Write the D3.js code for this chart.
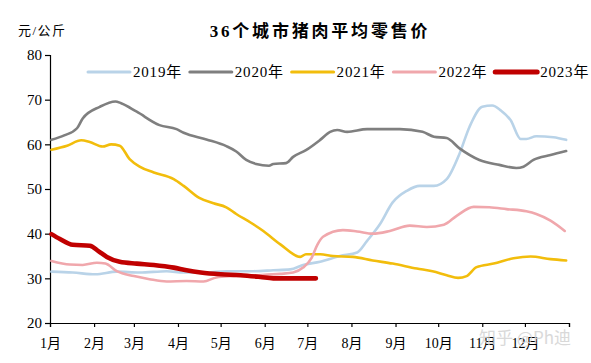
<!DOCTYPE html>
<html>
<head>
<meta charset="utf-8">
<script src="https://cdn.jsdelivr.net/npm/d3@7"></script>
<style>
  body { margin: 0; background: #fff; }
  text { font-family: "Liberation Serif", "Noto Sans CJK SC", serif; fill: #000; }
</style>
</head>
<body>
<svg id="chart" width="591" height="363"></svg>
<script>
// Data (day of year, yuan/kg)
var monthLabels = ['1月','2月','3月','4月','5月','6月','7月','8月','9月','10月','11月','12月'];
var monthStarts = [0, 31, 59, 90, 120, 151, 181, 212, 243, 273, 304, 334, 365];
var yTicks = [20, 30, 40, 50, 60, 70, 80];
var years = ['2019年', '2020年', '2021年', '2022年', '2023年'];

var data2019 = [[1,31.5],[16,31.3],[32,30.9],[47,31.5],[63,31.3],[82,31.6],[94,31.3],[110,31.3],
  [124,31.6],[143,31.6],[157,31.8],[169,32.0],[178,33.0],[190,33.7],[204,35.0],[216,35.8],
  [223,38.4],[232,42.1],[241,47.0],[251,49.6],[260,50.7],[270,50.7],[279,52.2],[288,57.9],
  [295,63.9],[304,68.4],[311,68.7],[317,67.6],[324,65.4],[331,61.2],[335,61.2],[342,61.8],
  [354,61.6],[363,61.0]];
var data2020 = [[1,61.0],[10,62.0],[19,63.6],[23,65.8],[35,68.4],[46,69.6],[50,69.2],[61,67.3],
  [77,64.3],[89,63.4],[94,62.6],[110,61.1],[124,59.6],[131,58.4],[138,56.5],[145,55.6],
  [154,55.2],[157,55.6],[166,55.8],[171,57.2],[180,58.7],[190,61.0],[197,62.8],[202,63.2],
  [209,62.8],[223,63.4],[246,63.4],[262,62.8],[270,61.7],[279,61.4],[288,59.1],[302,56.5],
  [316,55.4],[328,54.7],[333,55.0],[340,56.5],[352,57.6],[363,58.5]];
var data2021 = [[1,58.8],[12,59.7],[22,60.9],[28,60.5],[37,59.5],[43,60.0],[49,59.7],[56,56.7],
  [63,55.0],[73,53.7],[87,52.2],[94,50.7],[105,48.0],[115,46.8],[124,45.9],[131,44.4],
  [141,42.5],[150,40.6],[162,37.6],[176,34.8],[180,35.4],[190,35.4],[199,35.0],[213,34.8],
  [227,34.0],[241,33.3],[258,32.2],[269,31.6],[279,30.7],[287,30.1],[293,30.5],[300,32.5],
  [312,33.3],[326,34.5],[338,34.9],[352,34.3],[363,34.0]];
var data2022 = [[1,33.9],[14,33.1],[23,33.0],[33,33.5],[39,33.3],[47,31.6],[59,30.5],[70,29.8],
  [82,29.3],[96,29.4],[108,29.3],[117,30.2],[129,30.5],[145,30.7],[162,31.0],[171,31.3],
  [178,32.4],[184,34.6],[188,37.5],[192,39.3],[206,40.8],[216,40.5],[227,40.0],[239,40.6],
  [253,41.8],[265,41.5],[277,42.0],[286,44.0],[298,46.0],[309,45.9],[321,45.5],[335,45.0],
  [342,44.4],[352,42.9],[362,40.6]];
var data2023 = [[1,39.9],[7,38.8],[16,37.5],[28,37.3],[34,36.1],[40,34.8],[49,33.7],[61,33.3],
  [73,33.0],[87,32.4],[96,31.8],[106,31.3],[120,30.9],[134,30.7],[148,30.3],[157,30.0],
  [171,30.0],[187,30.0]];

var series = [data2019, data2020, data2021, data2022, data2023];
var colors = ['#b9d3e8', '#7f7f7f', '#f2bd0c', '#f0a7ac', '#c00000'];
var widths = [2.6, 2.6, 2.6, 2.6, 4.6];

// Plot area
const svg = d3.select('#chart');
const margin = {top: 55, bottom: 40, left: 50, right: 22};
const width = 591 - margin.left - margin.right;
const height = 363 - margin.top - margin.bottom;

const g = svg.append('g')
  .attr('transform', `translate(${margin.left}, ${margin.top})`);

const xscale = d3.scaleLinear().domain([0, 365]).range([0, width]);
const yscale = d3.scaleLinear().domain([20, 80]).range([height, 0]);

const yaxis = d3.axisLeft(yscale).tickValues(yTicks).tickSize(5).tickPadding(3);
const xaxis = d3.axisBottom(xscale).tickValues(monthStarts).tickSize(4)
  .tickFormat(function(d, i) { return monthLabels[i] || ''; });

const gy = g.append('g').call(yaxis);
gy.selectAll('text').style('font-size', '15px');

const gx = g.append('g').attr('transform', `translate(0,${height})`).call(xaxis);
gx.selectAll('text').style('font-size', '14px').attr('dy', '1.25em');

g.selectAll('.domain, .tick line').attr('stroke', '#000').attr('stroke-width', 1.2);

// Lines
var line = d3.line()
  .x(function(d) { return xscale(d[0]); })
  .y(function(d) { return yscale(d[1]); })
  .curve(d3.curveMonotoneX);

g.selectAll('.dist')
  .data(series)
  .enter().append('path')
  .attr('class', 'dist')
  .attr('d', line)
  .attr('fill', 'none')
  .attr('stroke', function(d, i) { return colors[i]; })
  .attr('stroke-width', function(d, i) { return widths[i]; })
  .attr('stroke-linejoin', 'round')
  .attr('stroke-linecap', 'round');

// Title and unit
svg.append('text')
  .attr('x', 320).attr('y', 37)
  .attr('text-anchor', 'middle')
  .style('font-size', '17px').style('font-weight', 'bold')
  .style('letter-spacing', '2.8px')
  .text('36个城市猪肉平均零售价');

svg.append('text')
  .attr('x', 18).attr('y', 35)
  .style('font-size', '13px').style('letter-spacing', '1.5px')
  .text('元/公斤');

// Legend
const legend = svg.selectAll('.legend')
  .data(years)
  .enter().append('g')
  .attr('class', 'legend')
  .attr('transform', function(d, i) { return `translate(${88 + i * 101.8}, 72)`; });

legend.append('line')
  .attr('x1', 0).attr('x2', 42)
  .attr('stroke', function(d, i) { return colors[i]; })
  .attr('stroke-width', function(d, i) { return widths[i] + 0.4; })
  .attr('stroke-linecap', 'round');

legend.append('text')
  .attr('x', 45).attr('dy', '0.35em')
  .style('font-size', '15px').style('letter-spacing', '0.8px')
  .text(function(d) { return d; });

// Watermark
svg.append('text')
  .attr('x', 479).attr('y', 344)
  .style('font-family', '"Noto Sans CJK SC", sans-serif')
  .style('font-size', '17px').style('fill', '#d3d3d3').style('opacity', 0.85)
  .text('知乎 @Ph迪');
</script>
</body>
</html>
